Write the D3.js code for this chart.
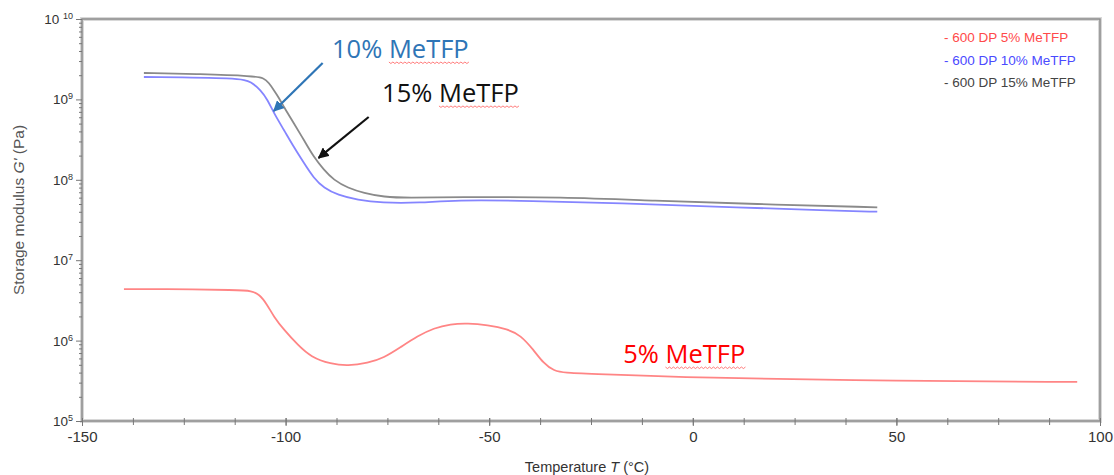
<!DOCTYPE html>
<html>
<head>
<meta charset="utf-8">
<script src="https://cdn.jsdelivr.net/npm/d3@7"></script>
<style>
  html, body { margin: 0; padding: 0; background: #fff; }
  svg { display: block; }
</style>
</head>
<body>
<div id="viz"></div>
<script>
const width = 1114;
const height = 475;
const margin = {top: 19, right: 14, bottom: 54, left: 82};

// legend entries
const seriesNames = ['- 600 DP 5% MeTFP', '- 600 DP 10% MeTFP', '- 600 DP 15% MeTFP'];

// 5% MeTFP
const temp5 = [-139.7, -131.1, -111.0, -108.5, -106.5, -104.5, -102.9, -100.4, -97.0, -93.8, -88.9, -84.7, -79.8, -75.9, -71.7, -67.6, -63.6, -59.5, -55.3, -50.4, -45.5, -42.3, -39.1, -36.7, -34.2, -30.8, -27.6, 1.9, 50.9, 94.4];
const mod5 = [4.38e6, 4.38e6, 4.26e6, 4.15e6, 3.8e6, 2.8e6, 1.98e6, 1.36e6, 8.82e5, 6.25e5, 5.12e5, 4.83e5, 5.26e5, 6.08e5, 8.32e5, 1.14e6, 1.43e6, 1.61e6, 1.65e6, 1.56e6, 1.39e6, 1.17e6, 7.64e5, 5.26e5, 4.19e5, 3.96e5, 3.9e5, 3.43e5, 3.15e5, 3.06e5];

// 10% MeTFP
const temp10 = [-134.8, -111.0, -108.5, -106.1, -104.4, -102.9, -100.4, -98.0, -95.5, -93.1, -90.6, -87.2, -82.3, -76.6, -66.8, -58.7, -39.8, -17.8, 6.8, 33.8, 45.3];
const mod10 = [1.90e9, 1.85e9, 1.65e9, 1.31e9, 9.84e8, 6.78e8, 4.16e8, 2.56e8, 1.62e8, 1.05e8, 7.91e7, 6.47e7, 5.61e7, 5.15e7, 5.15e7, 5.61e7, 5.49e7, 5.1e7, 4.63e7, 4.13e7, 4.01e7];

// 15% MeTFP
const temp15 = [-134.8, -120.8, -107.8, -105.3, -104.1, -102.9, -101.6, -100.4, -98.0, -95.5, -93.1, -90.6, -88.2, -84.7, -80.8, -75.9, -70.0, -58.7, -31.7, -9.7, 14.9, 45.3];
const mod15 = [2.13e9, 2.07e9, 1.95e9, 1.85e9, 1.6e9, 1.31e9, 1.04e9, 8.04e8, 5.08e8, 3.12e8, 1.92e8, 1.33e8, 9.95e7, 7.91e7, 6.86e7, 6.11e7, 5.94e7, 6.11e7, 6.11e7, 5.49e7, 5.0e7, 4.55e7];

const lineColors = ['#ff8585', '#8585ff', '#8a8a8a'];
const legendColors = ['#ff4a4a', '#4a4aff', '#444444'];

const xTicks = [-150, -100, -50, 0, 50, 100];
const yExponents = [5, 6, 7, 8, 9, 10];

// callout labels with arrows (data coordinates)
const calloutText = ['10% MeTFP', '15% MeTFP', '5% MeTFP'];
const calloutColor = ['#2e75b6', '#111111', '#ff0000'];
const calloutPos = [[-88.6, 3.27e9], [-76.3, 9.3e8], [-17.1, 5.26e5]];
const arrowFrom = [[-90.9, 2.84e9], [-79.6, 6.04e8], null];
const arrowTo = [[-102.9, 7.18e8], [-91.9, 1.87e8], null];

const x = d3.scaleLinear().domain([-150, 100]).range([margin.left, width - margin.right]);
const y = d3.scaleLog().domain([1e5, 1e10]).range([height - margin.bottom, margin.top]);

const svg = d3.select('#viz').append('svg')
  .attr('width', width)
  .attr('height', height);

// frame
svg.append('rect')
  .attr('x', margin.left).attr('y', margin.top)
  .attr('width', width - margin.right - margin.left)
  .attr('height', height - margin.bottom - margin.top)
  .attr('fill', 'none')
  .attr('stroke', '#d8d8d8')
  .attr('stroke-width', 4);
svg.append('rect')
  .attr('x', margin.left).attr('y', margin.top)
  .attr('width', width - margin.right - margin.left)
  .attr('height', height - margin.bottom - margin.top)
  .attr('fill', 'none')
  .attr('stroke', '#8c8c8c')
  .attr('stroke-width', 1.5);

// x axis
const xMinor = d3.range(-150, 100.1, 12.5);
svg.append('g')
  .attr('transform', `translate(0,${height - margin.bottom})`)
  .call(d3.axisBottom(x).tickValues(xMinor).tickFormat('').tickSize(4).tickSizeOuter(0))
  .call(g => g.select('.domain').remove())
  .call(g => g.selectAll('line').attr('stroke', '#777').attr('y1', -3));
svg.append('g')
  .attr('transform', `translate(0,${height - margin.bottom})`)
  .call(d3.axisBottom(x).tickValues(xTicks).tickFormat(d => d < 0 ? '-' + Math.abs(d) : d).tickSize(5).tickPadding(5).tickSizeOuter(0))
  .call(g => g.select('.domain').remove())
  .call(g => g.selectAll('line').attr('stroke', '#777').attr('y1', -3))
  .call(g => g.selectAll('text')
    .style('font-family', '"Liberation Sans", Arial, sans-serif')
    .style('font-size', '15px')
    .attr('fill', '#333'));

svg.append('text')
  .attr('x', 587)
  .attr('y', 472)
  .attr('text-anchor', 'middle')
  .style('font-family', '"Liberation Sans", Arial, sans-serif')
  .style('font-size', '14.5px')
  .attr('fill', '#333')
  .text('Temperature ')
  .append('tspan').style('font-style', 'italic').text('T')
  .append('tspan').style('font-style', 'normal').text(' (°C)');

// y axis
const yMinor = [];
yExponents.slice(0, -1).forEach(e => {
  for (let k = 2; k <= 9; k++) yMinor.push(k * Math.pow(10, e));
});
svg.append('g')
  .attr('transform', `translate(${margin.left},0)`)
  .call(d3.axisLeft(y).tickValues(yMinor).tickFormat('').tickSize(3).tickSizeOuter(0))
  .call(g => g.select('.domain').remove())
  .call(g => g.selectAll('line').attr('stroke', '#777'));
svg.append('g')
  .attr('transform', `translate(${margin.left},0)`)
  .call(d3.axisLeft(y).tickValues(yExponents.map(e => Math.pow(10, e))).tickFormat('').tickSize(6).tickSizeOuter(0))
  .call(g => g.select('.domain').remove())
  .call(g => g.selectAll('line').attr('stroke', '#777'));

const yLab = svg.append('g')
  .style('font-family', '"Liberation Sans", Arial, sans-serif')
  .attr('fill', '#333')
  .selectAll('text')
  .data(yExponents)
  .join('text')
  .attr('x', margin.left - 9)
  .attr('y', d => y(Math.pow(10, d)) + 5)
  .attr('text-anchor', 'end')
  .style('font-size', '13.5px');
yLab.append('tspan').text(d => d >= 10 ? '10 ' : '10');
yLab.append('tspan').attr('dy', -5).style('font-size', '9px').text(d => d);

svg.append('text')
  .attr('transform', `translate(24,210) rotate(-90)`)
  .attr('text-anchor', 'middle')
  .style('font-family', '"Liberation Sans", Arial, sans-serif')
  .style('font-size', '15.5px')
  .attr('fill', '#555')
  .text('Storage modulus ')
  .append('tspan').style('font-style', 'italic').text('G\'')
  .append('tspan').style('font-style', 'normal').text(' (Pa)');

// curves
const series = [
  temp5.map((t, i) => [t, mod5[i]]),
  temp10.map((t, i) => [t, mod10[i]]),
  temp15.map((t, i) => [t, mod15[i]])
];
const line = d3.line()
  .x(d => x(d[0]))
  .y(d => y(d[1]))
  .curve(d3.curveBasis);

svg.append('g')
  .selectAll('path')
  .data(series)
  .join('path')
  .attr('d', line)
  .attr('fill', 'none')
  .attr('stroke', (d, i) => lineColors[i])
  .attr('stroke-width', 1.8);

// legend
svg.append('g')
  .style('font-family', '"Liberation Sans", Arial, sans-serif')
  .style('font-size', '13.5px')
  .selectAll('text')
  .data(seriesNames)
  .join('text')
  .attr('x', 944)
  .attr('y', (d, i) => 42 + i * 22.5)
  .attr('fill', (d, i) => legendColors[i])
  .text(d => d);

// arrows
const defs = svg.append('defs');
calloutColor.forEach((c, i) => {
  defs.append('marker')
    .attr('id', 'arrow' + i)
    .attr('viewBox', '0 0 10 10')
    .attr('refX', 9).attr('refY', 5)
    .attr('markerWidth', 5).attr('markerHeight', 5)
    .attr('orient', 'auto')
    .append('path')
    .attr('d', 'M0,0 L10,5 L0,10 z')
    .attr('fill', c);
});
arrowFrom.forEach((f, i) => {
  if (!f) return;
  svg.append('line')
    .attr('x1', x(f[0])).attr('y1', y(f[1]))
    .attr('x2', x(arrowTo[i][0])).attr('y2', y(arrowTo[i][1]))
    .attr('stroke', calloutColor[i])
    .attr('stroke-width', 2.2)
    .attr('marker-end', `url(#arrow${i})`);
});

// callout labels with spell-check squiggle under "MeTFP"
calloutText.forEach((txt, i) => {
  const t = svg.append('text')
    .attr('x', x(calloutPos[i][0]))
    .attr('y', y(calloutPos[i][1]))
    .style('font-family', '"Open Sans", "Noto Sans", sans-serif')
    .style('font-size', '25.5px')
    .attr('fill', calloutColor[i])
    .text(txt);
  const node = t.node();
  const start = txt.indexOf('MeTFP');
  const sx = node.getStartPositionOfChar(start).x;
  const ex = node.getEndPositionOfChar(txt.length - 1).x;
  const by = y(calloutPos[i][1]) + 4;
  let d = `M${sx},${by}`;
  for (let px = sx, k = 0; px < ex; px += 2, k++) {
    d += ` L${px + 2},${by + (k % 2 ? 0 : 1.5)}`;
  }
  svg.append('path')
    .attr('d', d)
    .attr('fill', 'none')
    .attr('stroke', '#ff5a5a')
    .attr('stroke-width', 0.8);
});
</script>
</body>
</html>
